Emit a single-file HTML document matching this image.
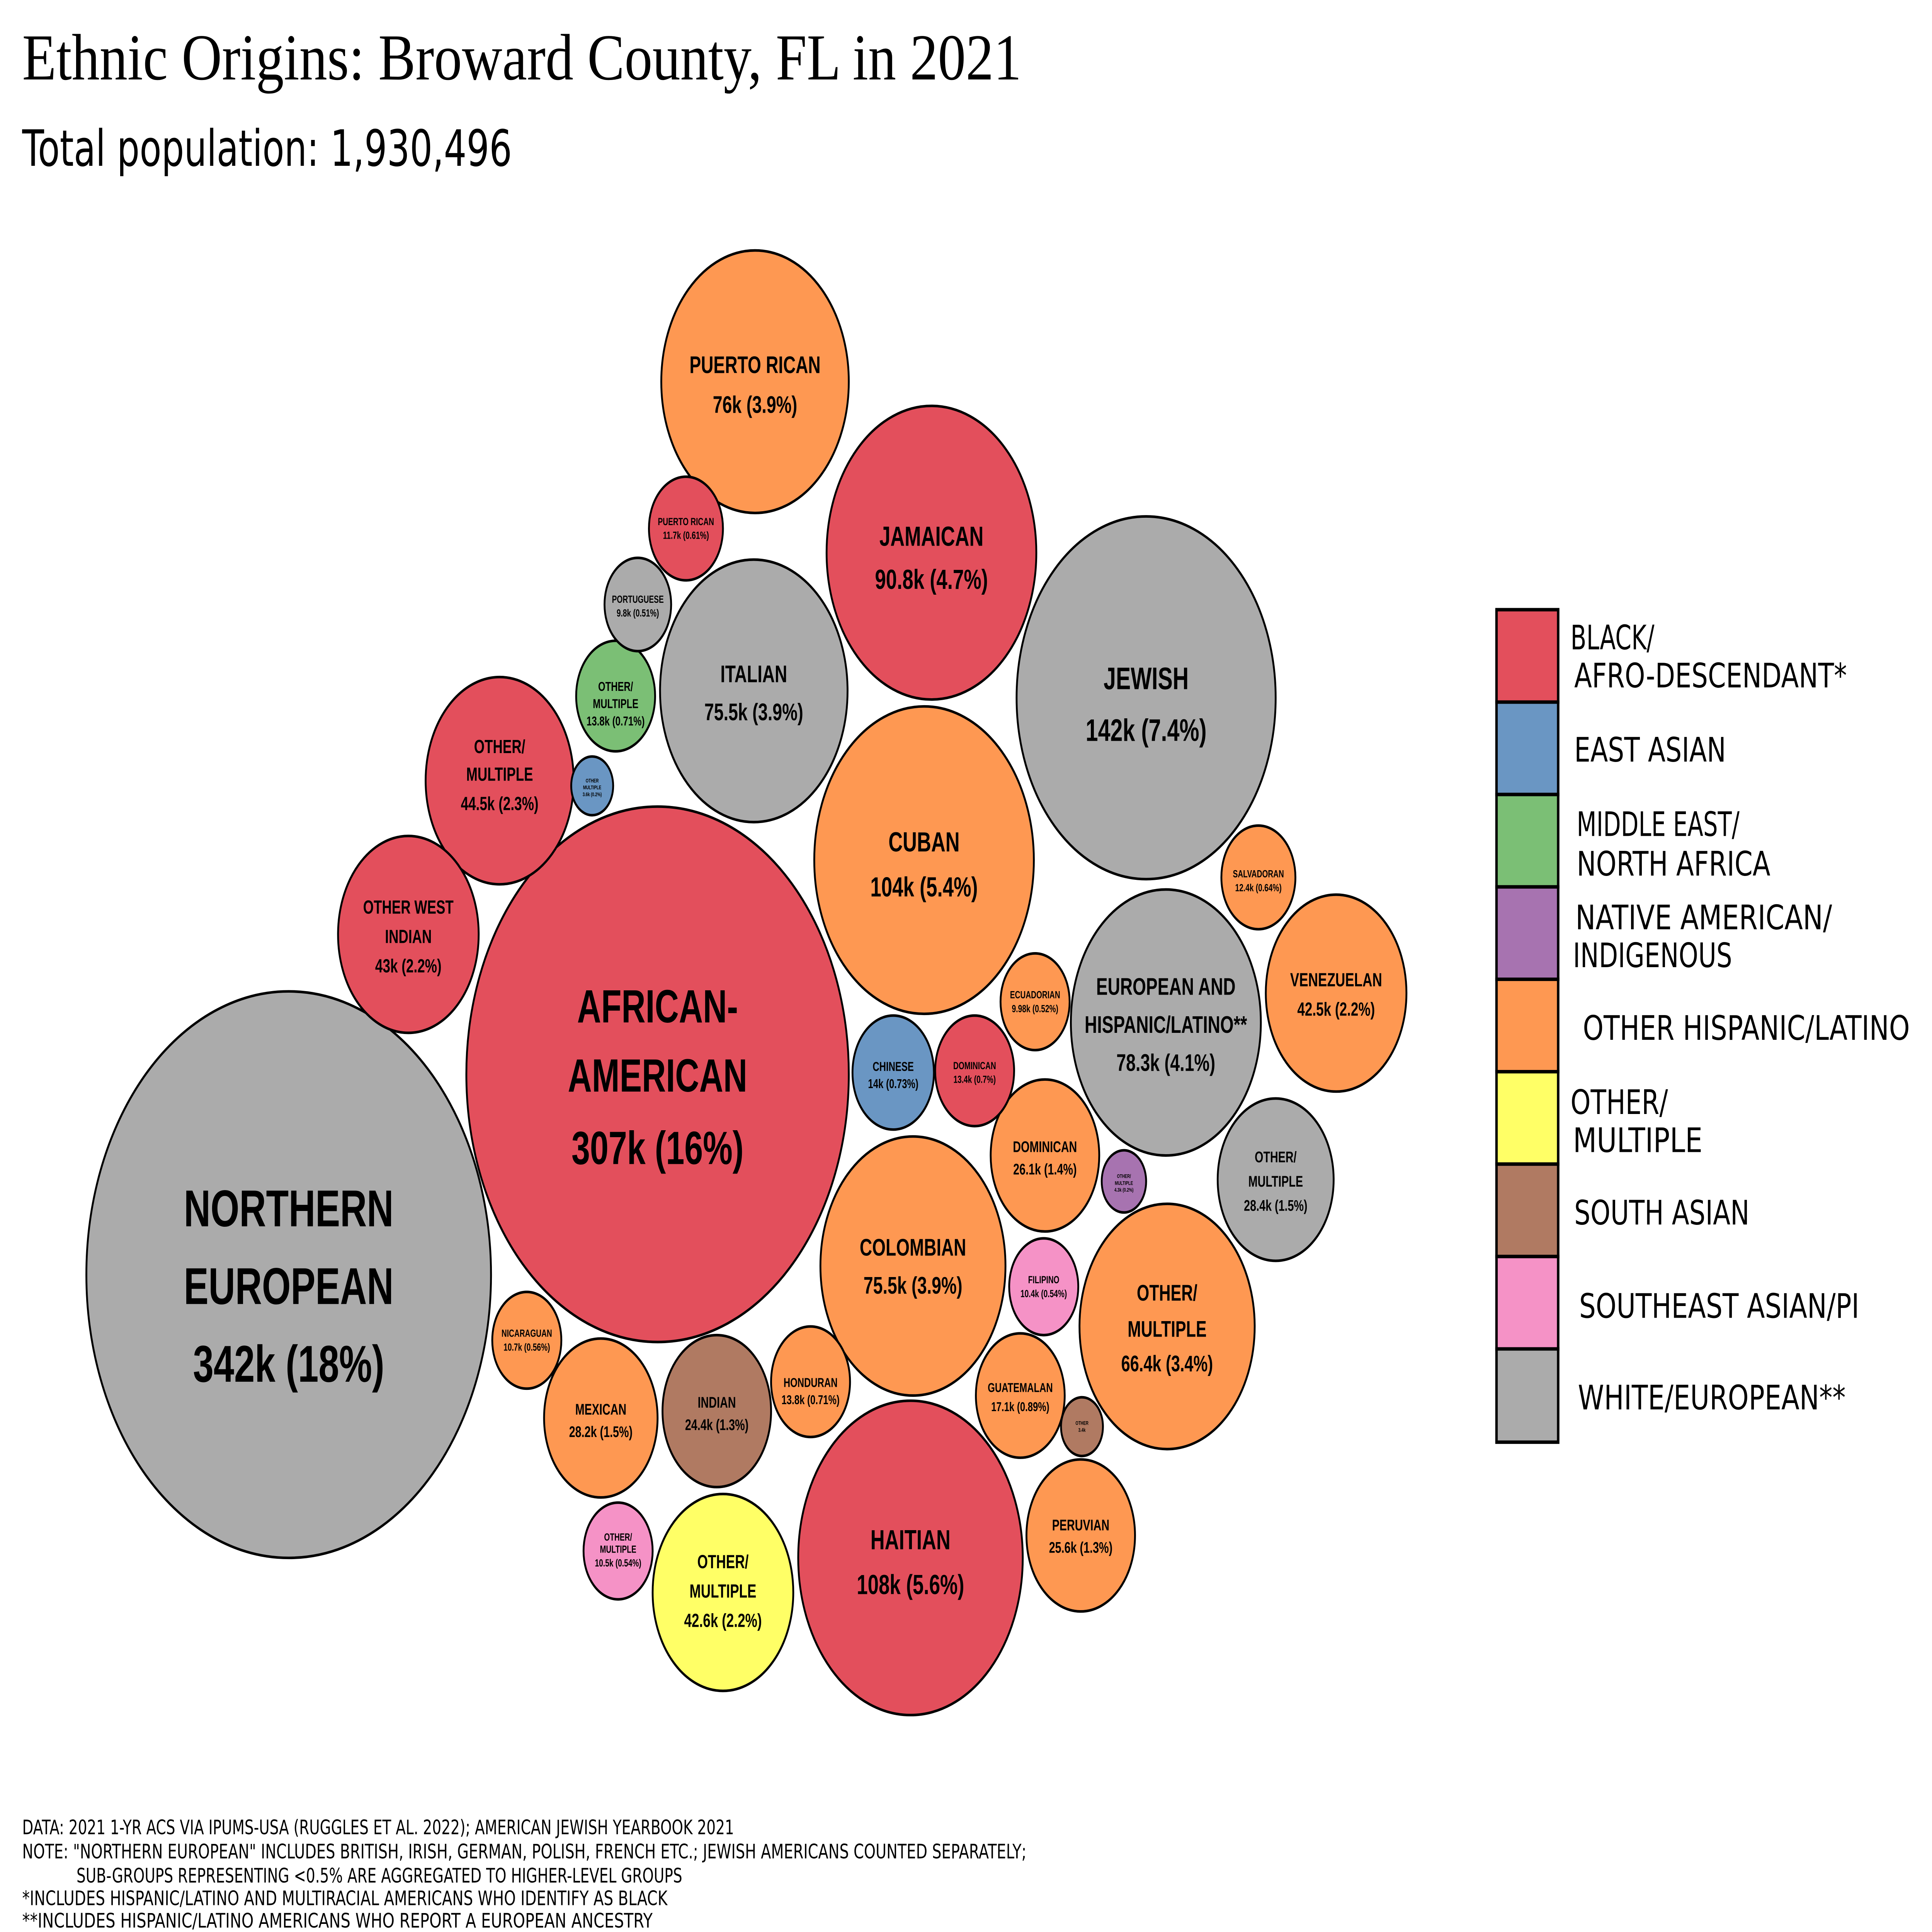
<!DOCTYPE html>
<html><head><meta charset="utf-8"><style>html,body{margin:0;padding:0;background:#fff;overflow:hidden}svg{display:block;width:100vw;height:100vh}</style></head>
<body>
<svg xmlns="http://www.w3.org/2000/svg" viewBox="0 0 1566 1118.6" preserveAspectRatio="none">
<rect width="1566" height="1118.6" fill="#fff"/>
<text x="18" y="46" font-family="Liberation Serif, serif" font-size="38" fill="#000" textLength="810" lengthAdjust="spacingAndGlyphs">Ethnic Origins: Broward County, FL in 2021</text>
<text x="18" y="96" font-family="DejaVu Sans, sans-serif" font-size="29" fill="#000" textLength="397" lengthAdjust="spacingAndGlyphs">Total population: 1,930,496</text>
<g stroke="#000" stroke-width="1.5">
<circle cx="234" cy="738" r="164" fill="#ababab"/>
<circle cx="533" cy="622" r="155" fill="#e34f5c"/>
<circle cx="929" cy="404" r="105" fill="#ababab"/>
<circle cx="738" cy="902" r="91" fill="#e34f5c"/>
<circle cx="749" cy="498" r="89" fill="#fe9852"/>
<circle cx="755" cy="320" r="85" fill="#e34f5c"/>
<circle cx="945" cy="592" r="77" fill="#ababab"/>
<circle cx="612" cy="221" r="76" fill="#fe9852"/>
<circle cx="740" cy="733" r="75" fill="#fe9852"/>
<circle cx="611" cy="400" r="76" fill="#ababab"/>
<circle cx="946" cy="768" r="71" fill="#fe9852"/>
<circle cx="405" cy="452" r="60" fill="#e34f5c"/>
<circle cx="331" cy="541" r="57" fill="#e34f5c"/>
<circle cx="1083" cy="575" r="57" fill="#fe9852"/>
<circle cx="586" cy="922" r="57" fill="#ffff66"/>
<circle cx="487" cy="821" r="46" fill="#fe9852"/>
<circle cx="1034" cy="683" r="47" fill="#ababab"/>
<circle cx="581" cy="817" r="44" fill="#b07a62"/>
<circle cx="876" cy="889" r="44" fill="#fe9852"/>
<circle cx="847" cy="669" r="44" fill="#fe9852"/>
<circle cx="827" cy="808" r="36" fill="#fe9852"/>
<circle cx="724" cy="621" r="33" fill="#6a96c3"/>
<circle cx="499" cy="403" r="32" fill="#7bbf75"/>
<circle cx="790" cy="620" r="32" fill="#e34f5c"/>
<circle cx="657" cy="800" r="32" fill="#fe9852"/>
<circle cx="1020" cy="508" r="30" fill="#fe9852"/>
<circle cx="556" cy="306" r="30" fill="#e34f5c"/>
<circle cx="846" cy="745" r="28" fill="#f592c6"/>
<circle cx="501" cy="898" r="28" fill="#f592c6"/>
<circle cx="839" cy="580" r="28" fill="#fe9852"/>
<circle cx="427" cy="776" r="28" fill="#fe9852"/>
<circle cx="517" cy="350" r="27" fill="#ababab"/>
<circle cx="480" cy="455" r="17" fill="#6a96c3"/>
<circle cx="911" cy="684" r="18" fill="#a773b0"/>
<circle cx="877" cy="826" r="17" fill="#b07a62"/>
</g>
<g font-family="Liberation Sans, Arial, sans-serif" font-weight="bold" fill="#000" text-anchor="middle">
<g font-size="30"><text x="234" y="710">NORTHERN</text><text x="234" y="755">EUROPEAN</text><text x="234" y="800">342k (18%)</text></g>
<g font-size="27"><text x="533" y="592">AFRICAN-</text><text x="533" y="632">AMERICAN</text><text x="533" y="674">307k (16%)</text></g>
<g font-size="18"><text x="929" y="399">JEWISH</text><text x="929" y="429">142k (7.4%)</text></g>
<g font-size="16"><text x="738" y="897">HAITIAN</text><text x="738" y="923">108k (5.6%)</text>
<text x="749" y="493">CUBAN</text><text x="749" y="519">104k (5.4%)</text>
<text x="755" y="316">JAMAICAN</text><text x="755" y="341">90.8k (4.7%)</text></g>
<g font-size="14"><text x="945" y="576">EUROPEAN AND</text><text x="945" y="598">HISPANIC/LATINO**</text><text x="945" y="620">78.3k (4.1%)</text>
<text x="612" y="216">PUERTO RICAN</text><text x="612" y="239">76k (3.9%)</text>
<text x="740" y="727">COLOMBIAN</text><text x="740" y="749">75.5k (3.9%)</text>
<text x="611" y="395">ITALIAN</text><text x="611" y="417">75.5k (3.9%)</text></g>
<g font-size="13"><text x="946" y="753">OTHER/</text><text x="946" y="774">MULTIPLE</text><text x="946" y="794">66.4k (3.4%)</text></g>
<g font-size="11"><text x="405" y="436">OTHER/</text><text x="405" y="452">MULTIPLE</text><text x="405" y="469">44.5k (2.3%)</text>
<text x="331" y="529">OTHER WEST</text><text x="331" y="546">INDIAN</text><text x="331" y="563">43k (2.2%)</text>
<text x="1083" y="571">VENEZUELAN</text><text x="1083" y="588">42.5k (2.2%)</text>
<text x="586" y="908">OTHER/</text><text x="586" y="925">MULTIPLE</text><text x="586" y="942">42.6k (2.2%)</text></g>
<g font-size="9"><text x="487" y="819">MEXICAN</text><text x="487" y="832">28.2k (1.5%)</text>
<text x="1034" y="673">OTHER/</text><text x="1034" y="687">MULTIPLE</text><text x="1034" y="701">28.4k (1.5%)</text>
<text x="581" y="815">INDIAN</text><text x="581" y="828">24.4k (1.3%)</text>
<text x="876" y="886">PERUVIAN</text><text x="876" y="899">25.6k (1.3%)</text>
<text x="847" y="667">DOMINICAN</text><text x="847" y="680">26.1k (1.4%)</text></g>
<g font-size="7.5"><text x="827" y="806">GUATEMALAN</text><text x="827" y="817">17.1k (0.89%)</text>
<text x="724" y="620">CHINESE</text><text x="724" y="630">14k (0.73%)</text>
<text x="499" y="400">OTHER/</text><text x="499" y="410">MULTIPLE</text><text x="499" y="420">13.8k (0.71%)</text>
<text x="657" y="803">HONDURAN</text><text x="657" y="813">13.8k (0.71%)</text></g>
<g font-size="6"><text x="790" y="619">DOMINICAN</text><text x="790" y="627">13.4k (0.7%)</text>
<text x="1020" y="508">SALVADORAN</text><text x="1020" y="516">12.4k (0.64%)</text>
<text x="556" y="304">PUERTO RICAN</text><text x="556" y="312">11.7k (0.61%)</text>
<text x="846" y="743">FILIPINO</text><text x="846" y="751">10.4k (0.54%)</text>
<text x="501" y="892">OTHER/</text><text x="501" y="899">MULTIPLE</text><text x="501" y="907">10.5k (0.54%)</text>
<text x="839" y="578">ECUADORIAN</text><text x="839" y="586">9.98k (0.52%)</text>
<text x="427" y="774">NICARAGUAN</text><text x="427" y="782">10.7k (0.56%)</text>
<text x="517" y="349">PORTUGUESE</text><text x="517" y="357">9.8k (0.51%)</text></g>
<g font-size="3"><text x="480" y="453">OTHER</text><text x="480" y="457">MULTIPLE</text><text x="480" y="461">3.6k (0.2%)</text>
<text x="911" y="682">OTHER/</text><text x="911" y="686">MULTIPLE</text><text x="911" y="690">4.3k (0.2%)</text>
<text x="877" y="825">OTHER</text><text x="877" y="829">3.4k</text></g>
</g>
<g stroke="#000" stroke-width="2">
<rect x="1213" y="353" width="50" height="53.5" fill="#e34f5c"/>
<rect x="1213" y="406.5" width="50" height="53.5" fill="#6a96c3"/>
<rect x="1213" y="460" width="50" height="53.5" fill="#7bbf75"/>
<rect x="1213" y="513.5" width="50" height="53.5" fill="#a773b0"/>
<rect x="1213" y="567" width="50" height="53.5" fill="#fe9852"/>
<rect x="1213" y="620.5" width="50" height="53.5" fill="#ffff66"/>
<rect x="1213" y="674" width="50" height="53.5" fill="#b07a62"/>
<rect x="1213" y="727.5" width="50" height="53.5" fill="#f592c6"/>
<rect x="1213" y="781" width="50" height="54" fill="#ababab"/>
</g>
<g font-family="DejaVu Sans, sans-serif" font-size="19.5" fill="#000">
<text x="1273" y="376" textLength="68" lengthAdjust="spacingAndGlyphs">BLACK/</text><text x="1276" y="398" textLength="221" lengthAdjust="spacingAndGlyphs">AFRO-DESCENDANT*</text>
<text x="1276" y="441" textLength="123" lengthAdjust="spacingAndGlyphs">EAST ASIAN</text>
<text x="1278" y="484" textLength="132" lengthAdjust="spacingAndGlyphs">MIDDLE EAST/</text><text x="1278" y="507" textLength="157" lengthAdjust="spacingAndGlyphs">NORTH AFRICA</text>
<text x="1277" y="538" textLength="208" lengthAdjust="spacingAndGlyphs">NATIVE AMERICAN/</text><text x="1275" y="560" textLength="129" lengthAdjust="spacingAndGlyphs">INDIGENOUS</text>
<text x="1283" y="602" textLength="265" lengthAdjust="spacingAndGlyphs">OTHER HISPANIC/LATINO</text>
<text x="1273" y="645" textLength="79" lengthAdjust="spacingAndGlyphs">OTHER/</text><text x="1275" y="667" textLength="105" lengthAdjust="spacingAndGlyphs">MULTIPLE</text>
<text x="1276" y="709" textLength="142" lengthAdjust="spacingAndGlyphs">SOUTH ASIAN</text>
<text x="1280" y="763" textLength="227" lengthAdjust="spacingAndGlyphs">SOUTHEAST ASIAN/PI</text>
<text x="1279" y="816" textLength="217" lengthAdjust="spacingAndGlyphs">WHITE/EUROPEAN**</text>
</g>
<g font-family="DejaVu Sans, sans-serif" font-size="11.5" fill="#000">
<text x="18" y="1062" textLength="577" lengthAdjust="spacingAndGlyphs">DATA: 2021 1-YR ACS VIA IPUMS-USA (RUGGLES ET AL. 2022); AMERICAN JEWISH YEARBOOK 2021</text>
<text x="18" y="1076" textLength="814" lengthAdjust="spacingAndGlyphs">NOTE: "NORTHERN EUROPEAN" INCLUDES BRITISH, IRISH, GERMAN, POLISH, FRENCH ETC.; JEWISH AMERICANS COUNTED SEPARATELY;</text>
<text x="62" y="1090" textLength="491" lengthAdjust="spacingAndGlyphs">SUB-GROUPS REPRESENTING &lt;0.5% ARE AGGREGATED TO HIGHER-LEVEL GROUPS</text>
<text x="18" y="1103" textLength="523" lengthAdjust="spacingAndGlyphs">*INCLUDES HISPANIC/LATINO AND MULTIRACIAL AMERICANS WHO IDENTIFY AS BLACK</text>
<text x="18" y="1116" textLength="511" lengthAdjust="spacingAndGlyphs">**INCLUDES HISPANIC/LATINO AMERICANS WHO REPORT A EUROPEAN ANCESTRY</text>
</g>
</svg>
</body></html>
